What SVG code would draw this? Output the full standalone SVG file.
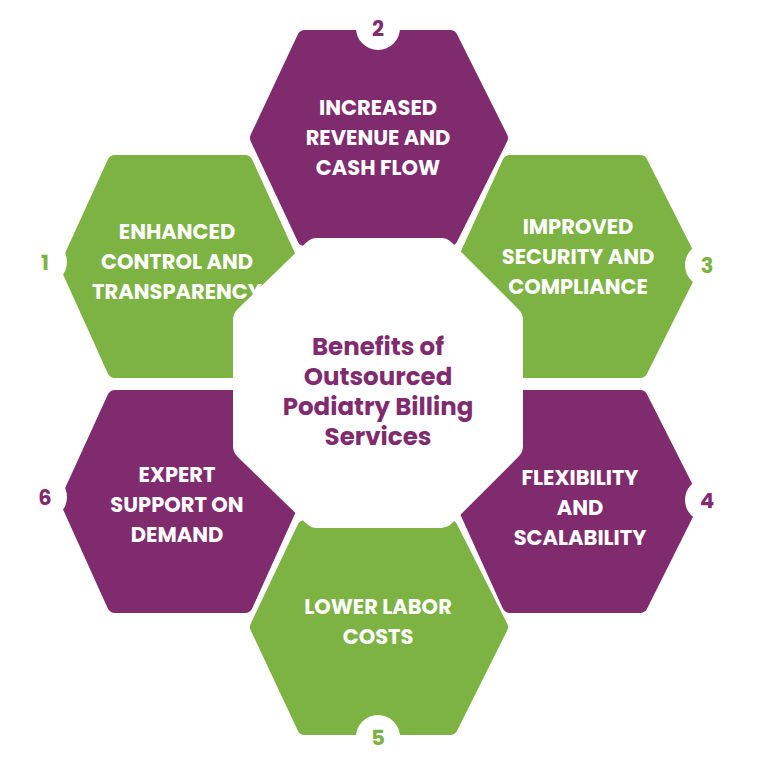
<svg xmlns="http://www.w3.org/2000/svg" width="762" height="768" viewBox="0 0 762 768">
<style>
.p{fill:#812b6f;stroke:#812b6f}
.g{fill:#7db343;stroke:#7db343}
.h{stroke-width:16;stroke-linejoin:round}
.t{font-family:Poppins,"Open Sans","Liberation Sans",sans-serif;font-weight:bold;font-size:21px;fill:#fff;text-anchor:middle}
.c{font-family:Poppins,"Open Sans","Liberation Sans",sans-serif;font-weight:bold;font-size:24.5px;fill:#812b6f;text-anchor:middle}
.n{font-family:Poppins,"Open Sans","Liberation Sans",sans-serif;font-weight:bold;font-size:21px;text-anchor:middle}
</style>
<rect width="762" height="768" fill="#fff"/>
<g id="node2"><polygon class="p h" points="305,38 450,38 500,138 450,238 305,238 258,138"/></g>
<g id="node1"><polygon class="g h" points="115,163 245,163 292,266 245,370 115,370 68,266"/></g>
<g id="node3"><polygon class="g h" points="510,163 640,163 692,266 640,370 510,370 463,266"/></g>
<g id="node4"><polygon class="p h" points="510,398 640,398 692,501 640,605 510,605 463,501"/></g>
<g id="node6"><polygon class="p h" points="115,398 245,398 292,501 245,605 115,605 68,501"/></g>
<g id="node5"><polygon class="g h" points="305,528 450,528 500,627 450,727 305,727 258,627"/></g>
<g id="center"><polygon fill="#fff" stroke="#fff" stroke-width="30" stroke-linejoin="round" points="317,253 441,253 508,320 508,446 441,513 317,513 248,446 248,320"/>
<text class="c" x="378" y="355">Benefits of</text><text class="c" x="378" y="385">Outsourced</text><text class="c" x="378" y="415">Podiatry Billing</text><text class="c" x="378" y="445">Services</text></g>
<g id="labels">
<text class="t" x="378" y="115">INCREASED</text><text class="t" x="378" y="145">REVENUE AND</text><text class="t" x="378" y="175">CASH FLOW</text>
<text class="t" x="177" y="239">ENHANCED</text><text class="t" x="177" y="269">CONTROL AND</text><text class="t" x="177" y="299">TRANSPARENCY</text>
<text class="t" x="578" y="234">IMPROVED</text><text class="t" x="578" y="264">SECURITY AND</text><text class="t" x="578" y="294">COMPLIANCE</text>
<text class="t" x="580" y="485">FLEXIBILITY</text><text class="t" x="580" y="515">AND</text><text class="t" x="580" y="545">SCALABILITY</text>
<text class="t" x="177" y="482">EXPERT</text><text class="t" x="177" y="512">SUPPORT ON</text><text class="t" x="177" y="542">DEMAND</text>
<text class="t" x="378" y="614">LOWER LABOR</text><text class="t" x="378" y="644">COSTS</text>
</g>
<g id="numbers">
<circle cx="378" cy="28" r="22" fill="#fff"/><text class="n" x="378" y="36" fill="#812b6f">2</text>
<circle cx="45" cy="262" r="22" fill="#fff"/><text class="n" x="45" y="270" fill="#7db343">1</text>
<circle cx="707" cy="265" r="22" fill="#fff"/><text class="n" x="707" y="273" fill="#7db343">3</text>
<circle cx="707" cy="500" r="22" fill="#fff"/><text class="n" x="707" y="508" fill="#812b6f">4</text>
<circle cx="45" cy="497" r="22" fill="#fff"/><text class="n" x="45" y="505" fill="#812b6f">6</text>
<circle cx="378" cy="737" r="22" fill="#fff"/><text class="n" x="378" y="745" fill="#7db343">5</text>
</g>
<g id="connectors"/>
</svg>
